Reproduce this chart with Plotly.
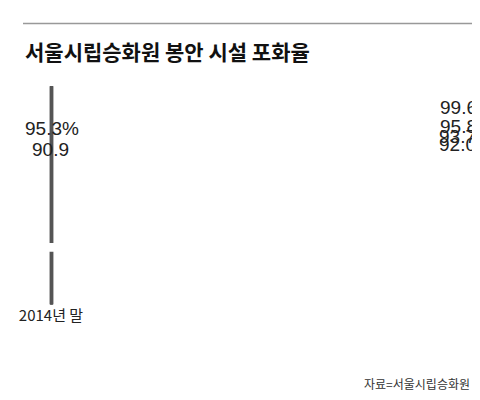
import plotly.graph_objects as go

categories = ["2014년 말", "2016", "2018", "2020", "2022", "2024년<br>8월 말"]
values = [90.9, 92.0, 93.7, 95.8, 99.6, 95.3]
labels = ["90.9", "92.0", "93.7", "95.8", "99.6", "95.3%"]
full = 100
base = 55.4

fig = go.Figure()
fig.add_bar(x=categories, y=[full - base] * 6, base=base, marker=dict(color="white", line=dict(width=0)), hoverinfo="skip")
fig.add_bar(x=categories, y=[v - base for v in values], base=base, marker=dict(color="#c0d9ec", line=dict(width=0)), hoverinfo="skip")
fig.add_bar(x=categories, y=[full - base] * 6, base=base, marker=dict(color="rgba(0,0,0,0)", line=dict(width=2.5, color="#555555")), hoverinfo="skip")

for c, v, t in zip(categories, values, labels):
    fig.add_annotation(x=c, y=v, text=t, showarrow=False, yanchor="top", yshift=-6,
                       font=dict(size=19, color="#222", family="Liberation Sans"))

fig.add_shape(type="rect", xref="paper", yref="y", x0=-0.02, x1=1.02, y0=66.0, y1=67.8,
              fillcolor="white", line=dict(width=0), layer="above")

fig.add_shape(type="line", xref="paper", yref="paper", x0=0, x1=0.985, y0=1.285, y1=1.285,
              line=dict(color="#999", width=1.5))
fig.add_annotation(xref="paper", yref="paper", x=0.0, y=1.16, xanchor="left", yanchor="middle",
                   text="<b>서울시립승화원 봉안 시설 포화율</b>", showarrow=False,
                   font=dict(size=21, color="#111", family="Noto Sans CJK KR"))
fig.add_annotation(xref="paper", yref="paper", x=0.985, y=-0.36, xanchor="right", yanchor="middle",
                   text="자료=서울시립승화원", showarrow=False,
                   font=dict(size=12, color="#333", family="Noto Sans CJK KR"))

fig.update_layout(
    width=480, height=400, barmode="overlay", bargap=0.185, showlegend=False,
    margin=dict(l=15, r=9, t=77.5, b=103),
    plot_bgcolor="white", paper_bgcolor="white",
    xaxis=dict(type="category", showline=False, showgrid=False, ticks="",
               tickfont=dict(size=15, color="#222", family="Noto Sans CJK KR")),
    yaxis=dict(range=[55.0, 100.3], visible=False),
)
fig.write_html("out.html")
